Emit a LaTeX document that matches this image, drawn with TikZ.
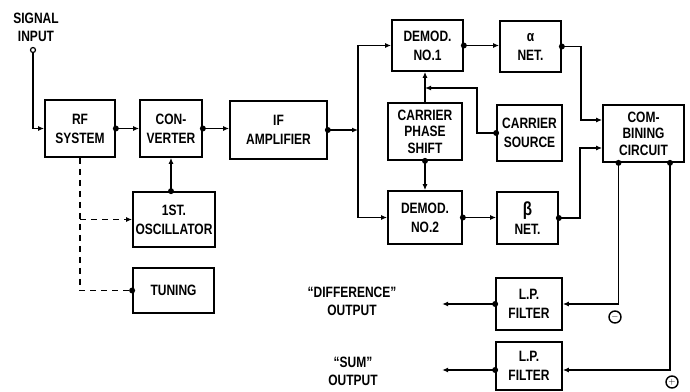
\documentclass[tikz,border=0pt]{standalone}
\usepackage{fontspec}
\setmainfont{Liberation Sans}[FakeStretch=0.8]
\usetikzlibrary{arrows.meta}
\newcommand{\jdot}[1]{\fill (#1) circle (3pt);}
\begin{document}
\begin{tikzpicture}[x=1pt,y=-1pt,line width=1.7pt,
  box/.style={draw, rectangle, align=center, inner sep=0pt, font=\fontsize{15}{19}\selectfont\bfseries},
  arr/.style={-{Latex[length=6pt,width=5pt]}},
  lbl/.style={align=center, inner sep=0pt, font=\fontsize{15}{18}\selectfont\bfseries},
  sign/.style={circle, draw, inner sep=0pt, minimum size=12pt, line width=1.4pt, font=\bfseries\small}]
\useasboundingbox (0,0) rectangle (690,391);
% boxes
\node[box, minimum width=70pt, minimum height=57pt] (rf) at (80,128.5) {RF\\SYSTEM};
\node[box, minimum width=62pt, minimum height=57pt] (conv) at (171,128.5) {CON-\\VERTER};
\node[box, minimum width=97pt, minimum height=58pt] (ifa) at (278.5,130) {IF\\AMPLIFIER};
\node[box, minimum width=71pt, minimum height=51pt] (d1) at (427.5,45.5) {DEMOD.\\NO.1};
\node[box, minimum width=61pt, minimum height=51pt] (alpha) at (530.5,46.5) {α\\NET.};
\node[box, minimum width=74pt, minimum height=57pt, font=\fontsize{15}{16.5}\selectfont\bfseries] (cps) at (425,131.5) {CARRIER\\PHASE\\SHIFT};
\node[box, minimum width=65pt, minimum height=56pt] (cs) at (529.5,133) {CARRIER\\SOURCE};
\node[box, minimum width=74pt, minimum height=53pt] (d2) at (425,217.5) {DEMOD.\\NO.2};
\node[box, minimum width=61pt, minimum height=52pt] (beta) at (527.5,218) {{\fontsize{19}{19}\selectfont β}\\NET.};
\node[box, minimum width=81pt, minimum height=57pt, font=\fontsize{15}{16.5}\selectfont\bfseries] (comb) at (643.5,133.5) {COM-\\BINING\\CIRCUIT};
\node[box, minimum width=82pt, minimum height=55pt] (osc) at (174,219.5) {1ST.\\OSCILLATOR};
\node[box, minimum width=81pt, minimum height=45pt] (tun) at (173.5,290.5) {TUNING};
\node[box, minimum width=66pt, minimum height=52pt] (lp1) at (529,304) {L.P.\\FILTER};
\node[box, minimum width=66pt, minimum height=48pt] (lp2) at (529,366) {L.P.\\FILTER};
% labels
\node[lbl] (sigl) at (36,27) {SIGNAL\\INPUT};
\node[lbl] (difl) at (352,301) {``DIFFERENCE''\\OUTPUT};
\node[lbl] (suml) at (353,371) {``SUM''\\OUTPUT};
\node[sign] (minus) at (615,317) {$-$};
\node[sign] (plus) at (672,382) {$+$};
% signal input
\node[circle, draw, line width=1.2pt, inner sep=0pt, minimum size=5pt] (sig) at (33,50) {};
\draw[arr] (sig) |- (rf.west);
% main chain
\draw[arr] (rf.east) -- (conv.west); \jdot{rf.east}
\draw[arr] (conv.east) -- (conv.east -| ifa.west); \jdot{conv.east}
\coordinate (bus) at (358,130);
\draw[arr] (ifa.east) -- (bus); \jdot{ifa.east}
\draw[arr] (bus) |- (d1.west);
\draw[arr] (bus) |- (d2.west);
\draw[arr] (d1.east) -- (d1.east -| alpha.west); \jdot{d1.east}
\draw[arr] (d2.east) -- (d2.east -| beta.west); \jdot{d2.east}
% carrier
\draw[arr] (cps.north) -- (cps.north |- d1.south);
\coordinate (j) at (425,88);
\draw[arr] (cs.west) -- ++(-19,0) |- (j); \jdot{cs.west}
\draw[arr] (cps.south) -- (cps.south |- d2.north); \jdot{cps.south}
% to combining
\coordinate (cin1) at ([yshift=13.5pt]comb.west);
\coordinate (cin2) at ([yshift=-14.5pt]comb.west);
\draw[arr] (alpha.east) -- ++(19,0) |- (cin1); \jdot{alpha.east}
\draw[arr] (beta.east) -- ++(21,0) |- (cin2); \jdot{beta.east}
% outputs
\coordinate (co1) at ([xshift=-25pt]comb.south);
\coordinate (co2) at ([xshift=26.5pt]comb.south);
\coordinate (li2) at ([yshift=-4pt]lp2.east);
\draw[arr] (co1) |- (lp1.east); \jdot{co1}
\draw[arr] (co2) |- (li2); \jdot{co2}
\coordinate (o1) at ([xshift=-53pt]lp1.west);
\coordinate (lo2) at ([yshift=-4pt]lp2.west);
\coordinate (o2) at ([xshift=-53pt]lo2);
\draw[arr] (lp1.west) -- (o1); \jdot{lp1.west}
\draw[arr] (lo2) -- (o2); \jdot{lo2}
% oscillator
\coordinate (oscin) at (conv.south |- osc.north);
\draw[arr] (oscin) -- (conv.south); \jdot{oscin}
% tuning (dashed)
\draw[dashed, dash pattern=on 6pt off 5pt] (rf.south) |- (tun.west); \jdot{tun.west}
\draw[arr, dashed, dash pattern=on 6pt off 5pt] (rf.south |- osc.west) -- (osc.west);
\end{tikzpicture}
\end{document}
